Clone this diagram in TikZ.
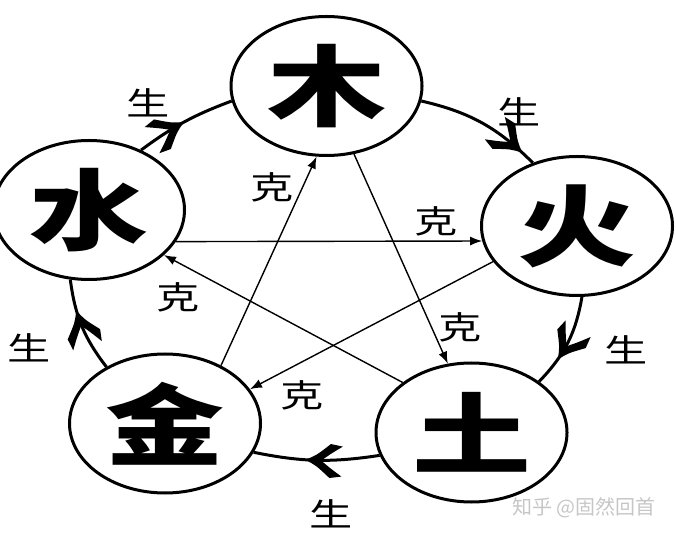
\documentclass[tikz,border=0pt]{standalone}
\usepackage{fontspec}
\usetikzlibrary{arrows.meta,shapes.geometric,decorations.markings}
\newfontfamily\cjkancho[FakeStretch=1.35]{Noto Sans CJK SC}
\newfontfamily\cjkmarca{Noto Sans CJK SC}
\newcommand{\puntasheng}{\fill (5,0) .. controls (-6,-5) .. (-20,-17) -- (-32,-15) .. controls (-20,-7) .. (-11,0) .. controls (-20,7) .. (-32,15) -- (-20,17) .. controls (-6,5) .. (5,0);}
\begin{document}
\begin{tikzpicture}[x=1pt,y=1pt,
    elemento/.style={ellipse,draw,line width=3pt,fill=white,minimum width=191pt,minimum height=139pt,inner sep=0pt,font=\cjkancho\bfseries\fontsize{88}{88}\selectfont},
    etiqueta/.style={inner sep=0pt,font=\cjkancho\fontsize{32}{32}\selectfont},
    sheng/.style={line width=3pt,postaction={decorate},decoration={markings,mark=at position #1 with {\puntasheng}}},
    ke/.style={line width=1.4pt,-{Latex[length=12pt,width=9pt]}}]
    \useasboundingbox (0,0) rectangle (676,535);

    %Los cinco elementos
    \node[elemento] (mu)   at (326.5,449) {木};
    \node[elemento] (huo)  at (577,309)   {火};
    \node[elemento] (tu)   at (471.5,102.5) {土};
    \node[elemento] (jin)  at (165,111.5) {金};
    \node[elemento] (shui) at (89,325)    {水};

    %Ciclo de generacion
    \draw[sheng=0.45] (shui.49.6) to[bend left=8]  (mu.189);
    \draw[sheng=0.85] (mu.-9.6)   to[bend left=16] (huo.125);
    \draw[sheng=0.65] (huo.-86)   to[bend left=17] (tu.37.5);
    \draw[sheng=0.55] (tu.194.5)  to[bend left=10] (jin.-18.7);
    \draw[sheng=0.62] (jin.136.7) to[bend left=15] (shui.255);

    %Ciclo de control
    \draw[ke] (shui.-20.3) -- (huo.189.6);
    \draw[ke] (huo.203.5)  -- (jin.22);
    \draw[ke] (jin.46.2)   -- (mu.262.5);
    \draw[ke] (mu.292)     -- (tu.109.4);
    \draw[ke] (tu.144)     -- (shui.-31.3);

    %Etiquetas
    \node[etiqueta] (s1) at (148,432) {生};
    \node[etiqueta] (s2) at (519,423) {生};
    \node[etiqueta] (s3) at (626,185) {生};
    \node[etiqueta] (s4) at (331,21)  {生};
    \node[etiqueta] (s5) at (29,187)  {生};

    \node[etiqueta] (k1) at (272,348) {克};
    \node[etiqueta] (k2) at (436,314) {克};
    \node[etiqueta] (k3) at (460,208) {克};
    \node[etiqueta] (k4) at (302,140) {克};
    \node[etiqueta] (k5) at (178,238) {克};

    \node[anchor=west,inner sep=0pt,text=gray!45,font=\cjkmarca\fontsize{20}{20}\selectfont] (marca) at (512,27.5) {知乎 @固然回首};
\end{tikzpicture}
\end{document}
